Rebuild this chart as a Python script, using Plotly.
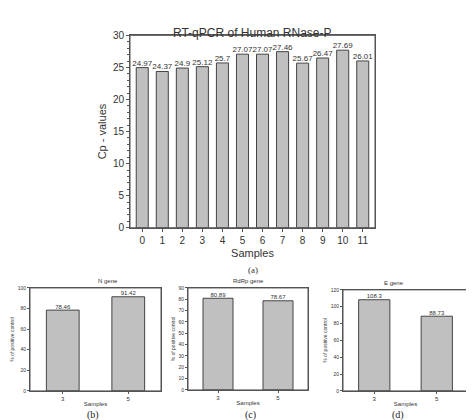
import plotly.graph_objects as go

samples = [str(i) for i in range(12)]
cp_values = [24.97, 24.37, 24.9, 25.12, 25.7, 27.07, 27.07, 27.46, 25.67, 26.47, 27.69, 26.01]
small_samples = ["3", "5"]
n_gene = [78.46, 91.42]
rdrp_gene = [80.89, 78.67]
e_gene = [108.3, 88.73]

W, H = 474, 420
def dx(a, b): return [a / W, b / W]
def dy(top, bot): return [1 - bot / H, 1 - top / H]

fig = go.Figure()
bar_style = dict(marker=dict(color="#c0c0c0", line=dict(color="#444", width=1)), showlegend=False,
                 hoverinfo="skip")
fig.add_trace(go.Bar(x=samples, y=cp_values, width=0.6, xaxis="x", yaxis="y", **bar_style))
fig.add_trace(go.Scatter(x=samples, y=cp_values, mode="text", text=[str(v) for v in cp_values],
                         textposition="top center", textfont=dict(size=8, color="#333"),
                         cliponaxis=False, showlegend=False, xaxis="x", yaxis="y"))
for i, vals in enumerate([n_gene, rdrp_gene, e_gene], start=2):
    fig.add_trace(go.Bar(x=small_samples, y=vals, width=0.5, xaxis=f"x{i}", yaxis=f"y{i}", **bar_style))
    fig.add_trace(go.Scatter(x=small_samples, y=vals, mode="text", text=[str(v) for v in vals],
                             textposition="top center", textfont=dict(size=6, color="#333"),
                             cliponaxis=False, showlegend=False, xaxis=f"x{i}", yaxis=f"y{i}"))

ax = dict(showline=True, linecolor="#555", mirror=True, ticks="outside",
          ticklen=3, tickcolor="#555", showgrid=False, zeroline=False)
layout = dict(width=W, height=H, margin=dict(l=0, r=0, t=0, b=0),
              paper_bgcolor="white", plot_bgcolor="white",
              font=dict(family="Liberation Sans, Arial", color="#333"))
layout["xaxis"] = dict(ax, domain=dx(122, 367), anchor="y", tickfont=dict(size=10, color="#333"),
                       title=dict(text="Samples", font=dict(size=11), standoff=4))
layout["yaxis"] = dict(ax, domain=dy(22, 220), anchor="x", range=[0, 30], dtick=5,
                       tickfont=dict(size=10, color="#333"),
                       minor=dict(ticks="outside", ticklen=2, dtick=1, tickcolor="#555"),
                       title=dict(text="Cp - values", font=dict(size=11), standoff=4))
panels = [
    (2, (22, 153), (282, 388), 100, 20, "N gene"),
    (3, (180, 300), (282, 387), 90, 10, "RdRp gene"),
    (4, (335, 460), (284, 388), 120, 20, "E gene"),
]
annotations = [dict(text="RT-qPCR of Human RNase-P", x=(122 + 367) / 2 / W, y=1 - 10 / H,
                    xref="paper", yref="paper", showarrow=False, font=dict(size=12)),
               dict(text="(a)", x=245 / W, y=1 - 264 / H, xref="paper", yref="paper",
                    showarrow=False, font=dict(size=9, family="Liberation Serif"))]
shapes = [dict(type="rect", xref="x domain", yref="y domain", x0=0, x1=1, y0=0, y1=1,
               line=dict(color="#555", width=1))]
for (i, xs, ys, rmax, dt, title), lab, lx in zip(panels, ["(b)", "(c)", "(d)"], [77, 243, 398]):
    layout[f"xaxis{i}"] = dict(ax, domain=dx(*xs), anchor=f"y{i}", tickfont=dict(size=6, color="#333"),
                               ticklen=2, title=dict(text="Samples", font=dict(size=6), standoff=0))
    layout[f"yaxis{i}"] = dict(ax, domain=dy(*ys), anchor=f"x{i}", range=[0, rmax], dtick=dt,
                               ticklen=2, tickfont=dict(size=5, color="#333"),
                               title=dict(text="% of positive control", font=dict(size=5), standoff=2))
    shapes.append(dict(type="rect", xref=f"x{i} domain", yref=f"y{i} domain", x0=0, x1=1, y0=0, y1=1,
                       line=dict(color="#555", width=1)))
    annotations.append(dict(text=title, x=(xs[0] + xs[1]) / 2 / W, y=1 - (ys[0] - 7) / H,
                            xref="paper", yref="paper", showarrow=False, font=dict(size=6)))
    annotations.append(dict(text=lab, x=lx / W, y=1 - 413 / H, xref="paper", yref="paper",
                            yanchor="middle", showarrow=False,
                            font=dict(size=10, family="Liberation Serif", color="#222")))
layout["annotations"] = annotations
layout["shapes"] = shapes
fig.update_layout(**layout)
fig.write_html("out.html")
